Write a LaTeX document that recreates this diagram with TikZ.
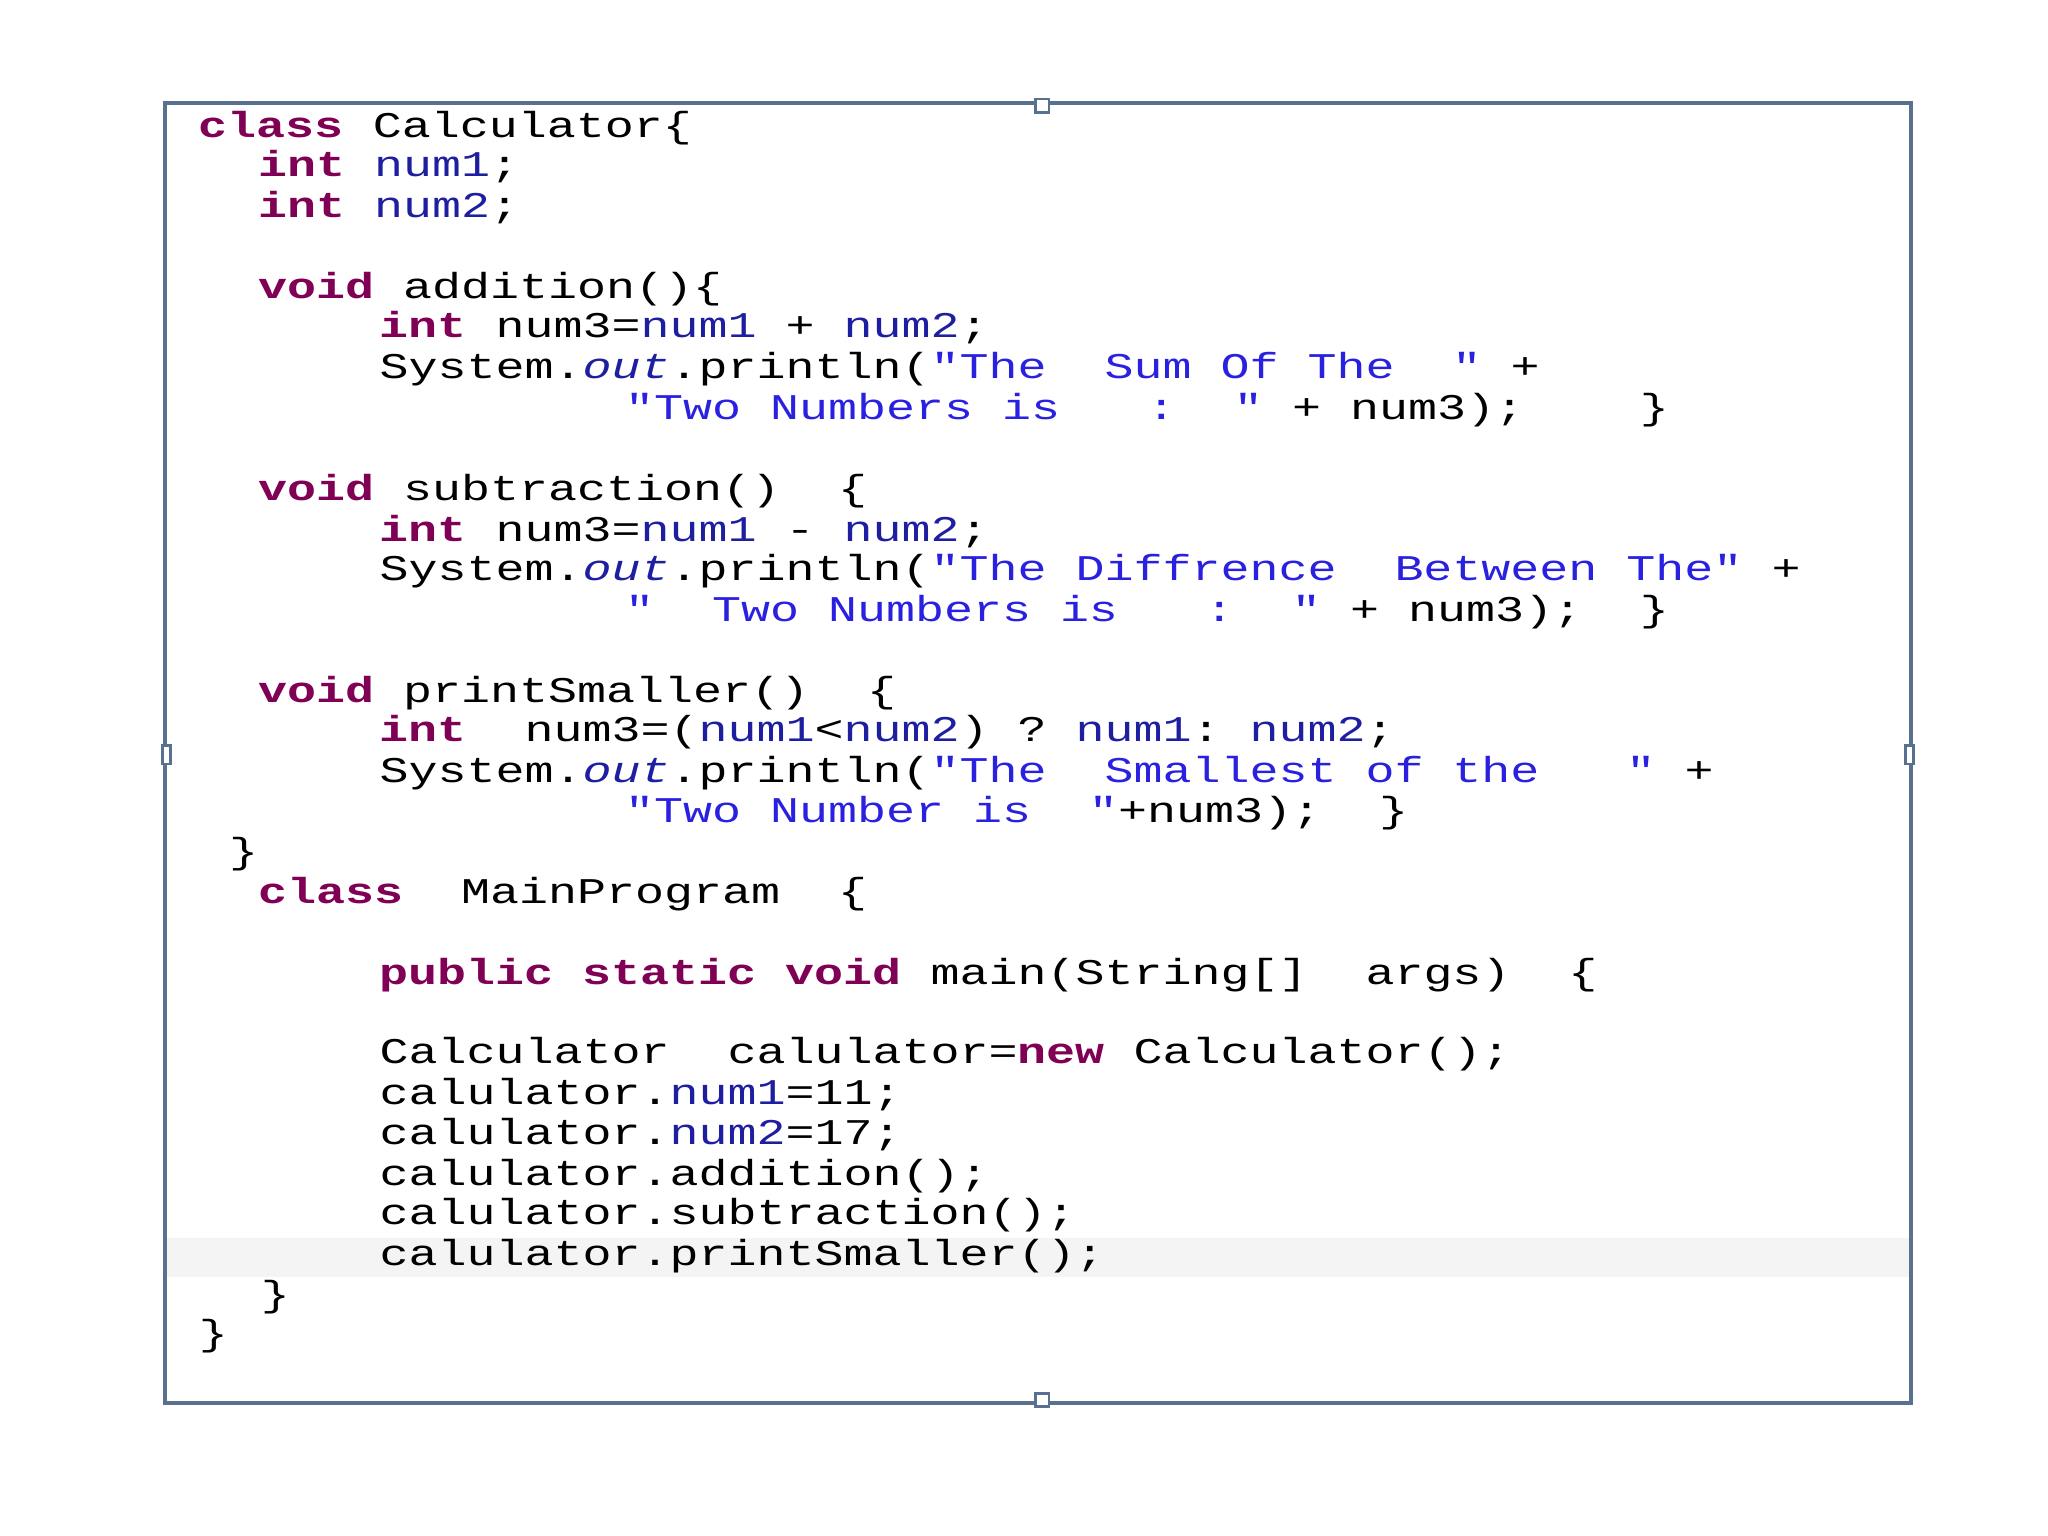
\documentclass[tikz,border=0pt]{standalone}
\usepackage{fontspec}
\newfontfamily\code[FakeStretch=1.335]{Liberation Mono}
\definecolor{kw}{HTML}{7F0055}
\definecolor{fl}{HTML}{1E1EA0}
\definecolor{st}{HTML}{2A20E0}
\definecolor{fr}{HTML}{5A7090}
\newcommand{\K}[1]{\textcolor{kw}{\bfseries #1}}
\newcommand{\F}[1]{\textcolor{fl}{#1}}
\newcommand{\Q}[1]{\textcolor{st}{#1}}
\newcommand{\OO}[1]{\textcolor{fl}{\itshape #1}}
\begin{document}
\begin{tikzpicture}[x=0.01cm,y=-0.01cm,
  ln/.style={anchor=base west,inner sep=0pt,font=\code\fontsize{7.8pt}{7.8pt}\selectfont,text=black},
  handle/.style={draw=fr,fill=white,line width=0.6pt,minimum size=0.1cm,inner sep=0pt}]
\useasboundingbox (0,0) rectangle (1552,1164);
\fill[white] (0,0) rectangle (1552,1164);
\fill[blue!4!gray!8] (125,938) rectangle (1448,968);
\coordinate (tl) at (125,78);
\coordinate (br) at (1448,1063);
\draw[fr,line width=0.8pt] (tl) rectangle (br);
\node[handle] (h1) at (790,80) {};
\node[handle] (h2) at (790,1061) {};
\node[handle,minimum width=0.06cm,minimum height=0.14cm] (h3) at (126,572) {};
\node[handle,minimum width=0.06cm,minimum height=0.14cm] (h4) at (1447,572) {};
\node[ln] (l1) at (150,104) {\K{class}~Calculator\{};
\node[ln] (l2) at (195,134) {\K{int}~\F{num1};};
\node[ln] (l3) at (195,165) {\K{int}~\F{num2};};
\node[ln] (l5) at (195,226) {\K{void}~addition()\{};
\node[ln] (l6) at (287,256) {\K{int}~num3=\F{num1}~+~\F{num2};};
\node[ln] (l7) at (287,287) {System.\OO{out}.println(\Q{"The~~Sum~Of~The~~"}~+};
\node[ln] (l8) at (473,318) {\Q{"Two~Numbers~is~~~:~~"}~+~num3);~~~~\}};
\node[ln] (l10) at (195,379) {\K{void}~subtraction()~~\{};
\node[ln] (l11) at (287,410) {\K{int}~num3=\F{num1}~-~\F{num2};};
\node[ln] (l12) at (287,440) {System.\OO{out}.println(\Q{"The~Diffrence~~Between~The"}~+};
\node[ln] (l13) at (473,471) {\Q{"~~Two~Numbers~is~~~:~~"}~+~num3);~~\}};
\node[ln] (l15) at (195,532) {\K{void}~printSmaller()~~\{};
\node[ln] (l16) at (287,562) {\K{int}~~num3=(\F{num1}<\F{num2})~?~\F{num1}:~\F{num2};};
\node[ln] (l17) at (287,593) {System.\OO{out}.println(\Q{"The~~Smallest~of~the~~~"}~+};
\node[ln] (l18) at (473,623) {\Q{"Two~Number~is~~"}+num3);~~\}};
\node[ln] (l19) at (173,654) {\}};
\node[ln] (l20) at (195,685) {\K{class}~~MainProgram~~\{};
\node[ln] (l22) at (287,746) {\K{public}~\K{static}~\K{void}~main(String[]~~args)~~\{};
\node[ln] (l24) at (287,806) {Calculator~~calulator=\K{new}~Calculator();};
\node[ln] (l25) at (287,837) {calulator.\F{num1}=11;};
\node[ln] (l26) at (287,867) {calulator.\F{num2}=17;};
\node[ln] (l27) at (287,898) {calulator.addition();};
\node[ln] (l28) at (287,928) {calulator.subtraction();};
\node[ln] (l29) at (287,959) {calulator.printSmaller();};
\node[ln] (l30) at (197,990) {\}};
\node[ln] (l31) at (150,1020) {\}};
\end{tikzpicture}
\end{document}
